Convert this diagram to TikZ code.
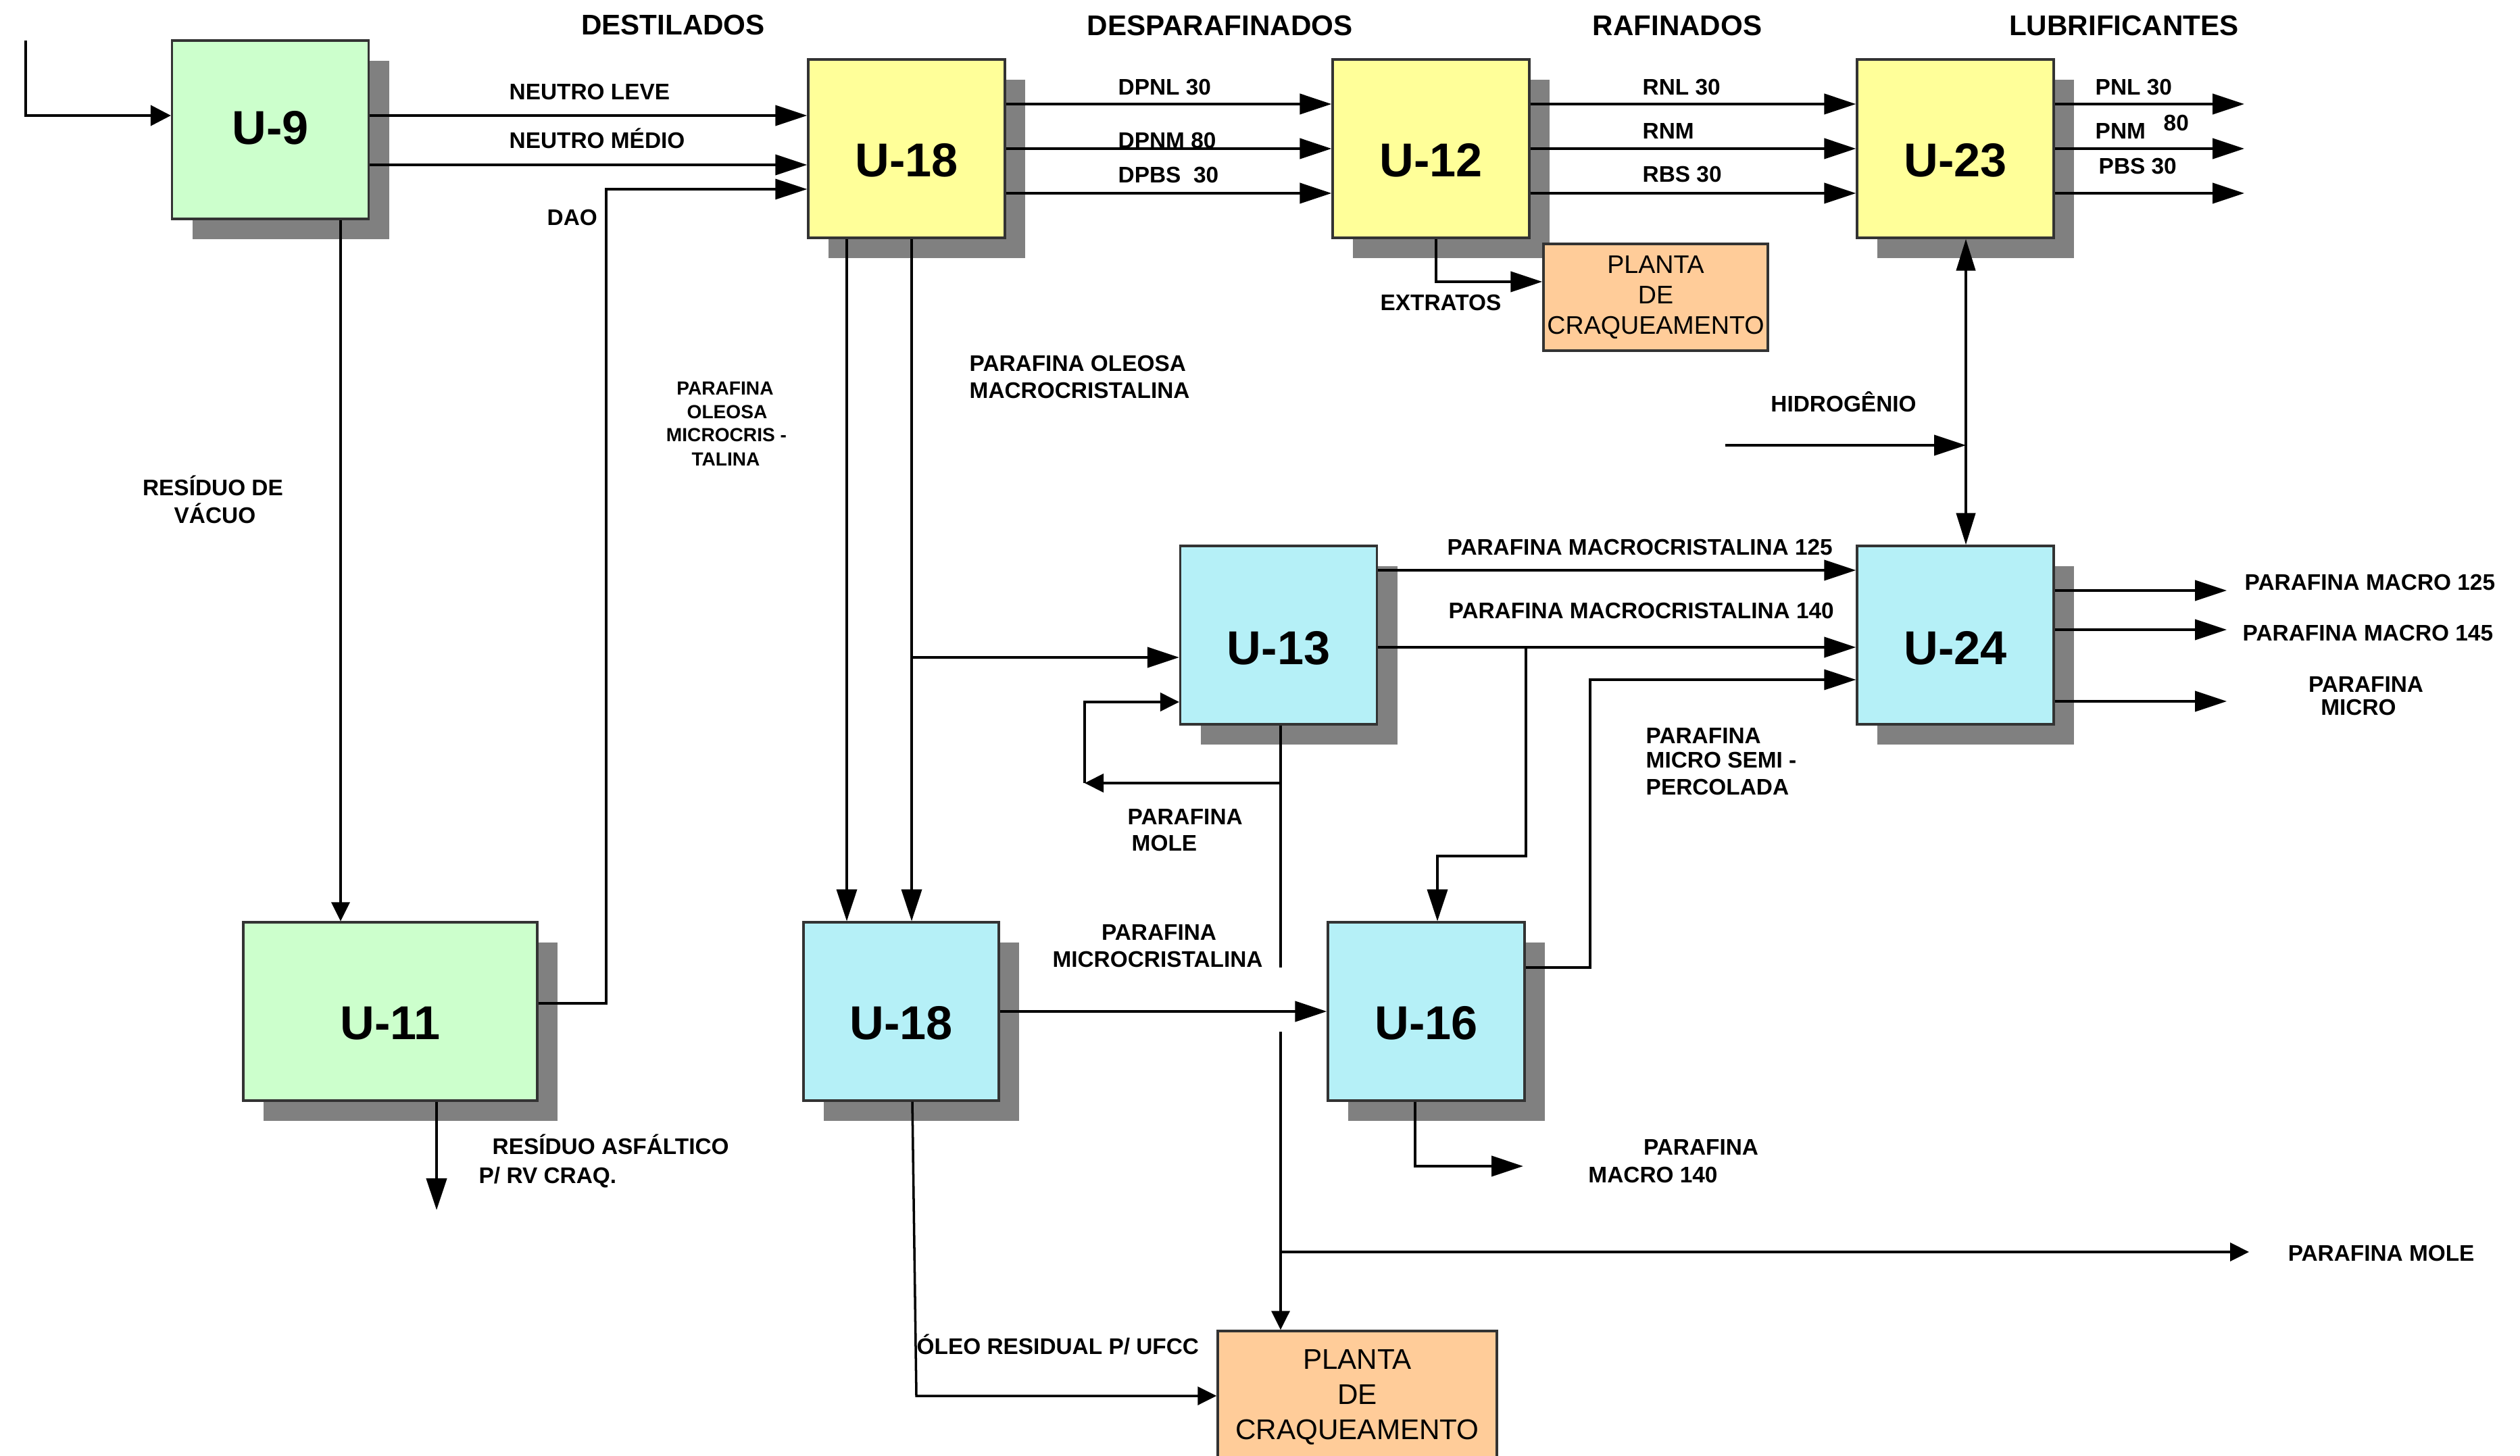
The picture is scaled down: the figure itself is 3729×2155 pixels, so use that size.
\documentclass[tikz,border=0pt]{standalone}
\usepackage{fontspec}
\setmainfont{Liberation Sans}
\usetikzlibrary{arrows.meta,shadows}
\definecolor{boxgreen}{HTML}{CCFFCC}
\definecolor{boxyellow}{HTML}{FFFF99}
\definecolor{boxcyan}{HTML}{B5F0F7}
\definecolor{boxorange}{HTML}{FFCC99}
\definecolor{shadowgray}{HTML}{808080}
\definecolor{bordergray}{HTML}{333333}
\tikzset{
  ubox/.style={draw=bordergray, line width=0.9pt, minimum width=29.1mm, minimum height=26.4mm,
    inner sep=0pt, font=\fontsize{20}{24}\selectfont\bfseries, text height=23.4pt, text depth=0pt,
    drop shadow={shadow xshift=3mm, shadow yshift=-3mm, fill=shadowgray, opacity=1}},
  gbox/.style={ubox, fill=boxgreen},
  ybox/.style={ubox, fill=boxyellow},
  cbox/.style={ubox, fill=boxcyan},
  plant/.style={draw=bordergray, line width=1pt, fill=boxorange, align=center, inner sep=0pt},
  lbl/.style={font=\fontsize{9.5}{11}\selectfont\bfseries, inner sep=0pt, text height=6.8pt, text depth=0pt},
  slbl/.style={font=\fontsize{8}{9}\selectfont\bfseries, inner sep=0pt, text height=5.7pt, text depth=0pt},
  head/.style={font=\fontsize{12}{14}\selectfont\bfseries, inner sep=0pt, text height=8.6pt, text depth=0pt},
  conn/.style={line width=1.2pt, draw=black},
  fline/.style={line width=1pt, draw=black},
  bigtip/.style={-{Triangle[length=4.7mm,width=3mm]}},
  medtip/.style={-{Triangle[length=3mm,width=3mm]}},
  smtip/.style={-{Triangle[length=2.8mm,width=2.7mm]}},
}
\begin{document}
\begin{tikzpicture}[x=0.1mm, y=-0.1mm]
\useasboundingbox (0,0) rectangle (3729,2155);

% ---- boxes
\node[gbox, text height=12pt] (u9) at (400,192) {U-9};
\node[ybox] (u18y) at (1341.5,220) {U-18};
\node[ybox] (u12) at (2117.5,220) {U-12};
\node[ybox] (u23) at (2893.5,220) {U-23};
\node[cbox, text height=24.5pt] (u13) at (1892,940) {U-13};
\node[cbox, text height=24.5pt] (u24) at (2893.5,940) {U-24};
\node[gbox, minimum width=43.5mm] (u11) at (577.5,1497) {U-11};
\node[cbox, minimum width=28.9mm] (u18c) at (1333.5,1497) {U-18};
\node[cbox] (u16) at (2110.5,1497) {U-16};
\node[plant, minimum width=33.2mm, minimum height=15.8mm, font=\fontsize{10.7}{12.8}\selectfont] (pc1) at (2450,440) {PLANTA\\DE\\CRAQUEAMENTO};
\node[plant, minimum width=41.3mm, minimum height=19.6mm, font=\fontsize{12}{14.8}\selectfont] (pc2) at (2008.5,2068) {PLANTA\\DE\\CRAQUEAMENTO};

% ---- headings
\node[head] (hd1) at (996,36) {DESTILADOS};
\node[head] (hd2) at (1805,37) {DESPARAFINADOS};
\node[head] (hd3) at (2482,37) {RAFINADOS};
\node[head] (hd4) at (3143,37) {LUBRIFICANTES};

% ---- connectors, top row
\coordinate (in9) at (38,60);
\draw[conn, medtip] (in9) |- (u9.west |- 0,171);
\draw[conn, bigtip] (u9.east |- 0,171) -- (u18y.west |- 0,171);
\draw[conn, bigtip] (u9.east |- 0,244) -- (u18y.west |- 0,244);
\draw[fline, bigtip] (u11.east |- 0,1485) -| (897,280) -- (u18y.west |- 0,280);
\draw[fline, smtip] (u9.south -| 504,0) -- (u11.north -| 504,0);
\coordinate (ra) at (646,1791);
\draw[conn, bigtip] (u11.south -| ra) -- (ra);
\foreach \yy in {154,220,286}{
  \draw[conn, bigtip] (u18y.east |- 0,\yy) -- (u12.west |- 0,\yy);
  \draw[conn, bigtip] (u12.east |- 0,\yy) -- (u23.west |- 0,\yy);
  \draw[conn, bigtip] (u23.east |- 0,\yy) -- (3321,\yy);
}
\draw[conn, bigtip] (u12.south -| 2125,0) |- (pc1.west |- 0,417);
\coordinate (h2) at (2553,659);
\coordinate (h2e) at (2909,659);
\draw[conn, bigtip] (h2) -- (h2e);
\draw[conn, {Triangle[length=4.7mm,width=2.8mm]}-{Triangle[length=4.7mm,width=2.8mm]}] (u23.south -| h2e) -- (u24.north -| h2e);

% ---- middle
\draw[fline, bigtip] (u18y.south -| 1253,0) -- (u18c.north -| 1253,0);
\draw[fline, bigtip] (u18y.south -| 1349,0) -- (u18c.north -| 1349,0);
\draw[conn, bigtip] (1349,973) -- (u13.west |- 0,973);
\draw[conn, bigtip] (u13.east |- 0,844) -- (u24.west |- 0,844);
\draw[conn, bigtip] (u13.east |- 0,958) -- (u24.west |- 0,958);
\draw[fline] (u13.south -| 1895,0) -- (1895,1432);
\draw[conn, smtip] (1895,1159) -- (1605,1159);
\draw[conn, smtip] (1605,1159) -- (1605,1039) -- (u13.west |- 0,1039);
\draw[fline, smtip] (1895,1527) -- (pc2.north -| 1895,0);
\draw[conn, smtip] (1895,1853) -- (3328,1853);
\draw[fline, bigtip] (2258,958) |- (2127,1267) -- (u16.north -| 2127,0);
\draw[fline, bigtip] (u16.east |- 0,1432) -| (2353,1006) -- (u24.west |- 0,1006);
\foreach \yy in {874,932,1038}{
  \draw[conn, bigtip] (u24.east |- 0,\yy) -- (3295,\yy);
}

% ---- bottom
\draw[conn, bigtip] (u18c.east |- 0,1497) -- (u16.west |- 0,1497);
\draw[fline, smtip] (u18c.south -| 1350,0) -- (1356,2066) -- (pc2.west |- 0,2066);
\draw[conn, bigtip] (u16.south -| 2094,0) |- (2254,1726);

% ---- labels
\node[lbl, anchor=west] (lnl) at (753,136) {NEUTRO LEVE};
\node[lbl, anchor=west] (lnm) at (753,208) {NEUTRO MÉDIO};
\node[lbl, anchor=west] (ldao) at (809,322) {DAO};
\node[lbl, anchor=west] (ldp1) at (1654,129) {DPNL 30};
\node[lbl, anchor=west] (ldp2) at (1654,208) {DPNM 80};
\node[lbl, anchor=west] (ldp3) at (1654,259) {DPBS \ 30};
\node[lbl, anchor=west] (lr1) at (2430,129) {RNL 30};
\node[lbl, anchor=west] (lr2) at (2430,194) {RNM};
\node[lbl, anchor=west] (lr3) at (2430,258) {RBS 30};
\node[lbl, anchor=west] (lp1) at (3100,129) {PNL 30};
\node[lbl, anchor=west] (lp2) at (3100,194) {PNM};
\node[lbl, anchor=west] (lp2b) at (3201,182) {80};
\node[lbl, anchor=west] (lp3) at (3105,246) {PBS 30};
\node[lbl] (lext) at (2132,448) {EXTRATOS};
\node[lbl] (lh2) at (2728,598) {HIDROGÊNIO};
\node[lbl, anchor=west] (lpo1) at (1434,538) {PARAFINA OLEOSA};
\node[lbl, anchor=west] (lpo2) at (1434,578) {MACROCRISTALINA};
\node[slbl] (lsm1) at (1073,574) {PARAFINA};
\node[slbl] (lsm2) at (1076,609) {OLEOSA};
\node[slbl] (lsm3) at (1075,643) {MICROCRIS -};
\node[slbl] (lsm4) at (1074,679) {TALINA};
\node[lbl] (lrv1) at (315,722) {RESÍDUO DE};
\node[lbl] (lrv2) at (318,763) {VÁCUO};
\node[lbl, anchor=west] (lm125) at (2141,810) {PARAFINA MACROCRISTALINA 125};
\node[lbl, anchor=west] (lm140) at (2143,904) {PARAFINA MACROCRISTALINA 140};
\node[lbl, anchor=west] (lms1) at (2435,1089) {PARAFINA};
\node[lbl, anchor=west] (lms2) at (2435,1125) {MICRO SEMI -};
\node[lbl, anchor=west] (lms3) at (2435,1165) {PERCOLADA};
\node[lbl, anchor=west] (lo125) at (3321,862) {PARAFINA MACRO 125};
\node[lbl, anchor=west] (lo145) at (3318,937) {PARAFINA MACRO 145};
\node[lbl] (lom1) at (3501,1013) {PARAFINA};
\node[lbl] (lom2) at (3490,1047) {MICRO};
\node[lbl, anchor=west] (lml1) at (1668,1209) {PARAFINA};
\node[lbl, anchor=west] (lml2) at (1674,1248) {MOLE};
\node[lbl] (lmc1) at (1715,1380) {PARAFINA};
\node[lbl] (lmc2) at (1713,1420) {MICROCRISTALINA};
\node[lbl, anchor=west] (lor) at (1356,1993) {ÓLEO RESIDUAL P/ UFCC};
\node[lbl] (lpm1) at (2517,1698) {PARAFINA};
\node[lbl] (lpm2) at (2446,1739) {MACRO 140};
\node[lbl, anchor=west] (lra1) at (728,1697) {RESÍDUO ASFÁLTICO};
\node[lbl, anchor=west] (lra2) at (708,1740) {P/ RV CRAQ.};
\node[lbl, anchor=west] (lmole) at (3385,1855) {PARAFINA MOLE};
\end{tikzpicture}
\end{document}
